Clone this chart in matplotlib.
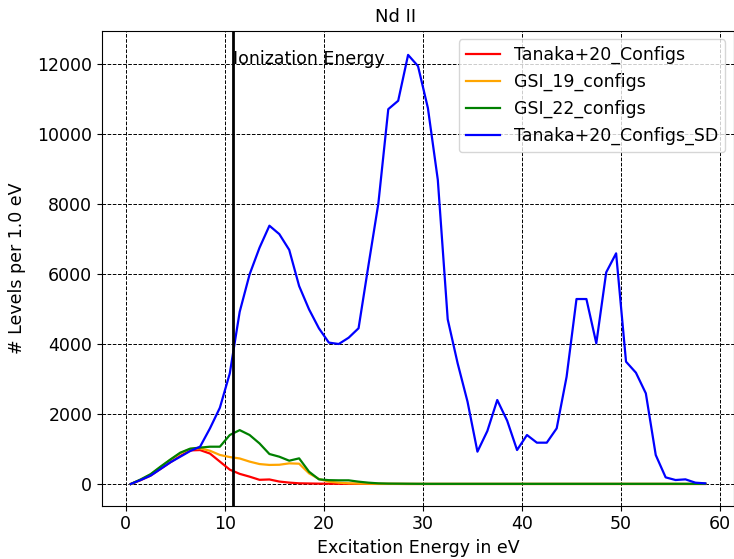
import matplotlib
matplotlib.use("Agg")
import matplotlib.pyplot as plt
import numpy as np

energy = [i + 0.5 for i in range(59)]

tanaka = [0, 110, 240, 430, 620, 800, 960, 970, 870, 640, 410, 290, 210, 120, 130,
          70, 40, 20, 15, 10, 8, 6, 5, 4, 3, 2, 2, 2, 1, 1,
          1, 1, 1, 1, 1, 1, 1, 1, 1, 1, 1, 1, 1, 1, 1,
          1, 1, 1, 1, 1, 1, 1, 1, 1, 1, 1, 1, 1, 1]
gsi19 = [0, 120, 270, 480, 690, 880, 1000, 1020, 950, 830, 770, 730, 640, 570, 545,
         550, 590, 580, 305, 143, 67, 38, 20, 12, 8, 5, 4, 3, 2, 2,
         2, 2, 2, 2, 2, 2, 2, 2, 2, 2, 2, 2, 2, 2, 2,
         2, 2, 2, 2, 2, 2, 2, 2, 2, 2, 2, 2, 2, 2]
gsi22 = [0, 130, 280, 495, 700, 895, 1010, 1040, 1066, 1066, 1400, 1540, 1400, 1160, 857,
         780, 666, 733, 352, 133, 110, 105, 105, 67, 38, 19, 12, 10, 8, 6,
         5, 5, 5, 5, 5, 5, 5, 5, 5, 5, 5, 5, 5, 5, 5,
         5, 5, 5, 5, 5, 5, 5, 5, 5, 5, 5, 5, 5, 5]
tanaka_sd = [0, 114, 238, 428, 619, 780, 942, 1066, 1590, 2180, 3160, 4920, 5990, 6750, 7380,
             7140, 6690, 5656, 4990, 4447, 4040, 4000, 4180, 4450, 6250, 8020, 10710, 10950, 12260, 11940,
             10740, 8690, 4705, 3450, 2352, 924, 1514, 2400, 1810, 971, 1400, 1181, 1181, 1590, 3063,
             5285, 5285, 4020, 6048, 6590, 3495, 3180, 2590, 828, 190, 114, 133, 38, 19]

series_names = ["Tanaka+20_Configs", "GSI_19_configs", "GSI_22_configs", "Tanaka+20_Configs_SD"]
ionization_energy = 10.78

W, H = 734, 559
fig = plt.figure(figsize=(W / 100, H / 100), dpi=100)
ax = fig.add_axes([102 / W, (H - 505.5) / H, 632 / W, 475 / H])

ax.plot(energy, tanaka, color="red", lw=1.6, label=series_names[0])
ax.plot(energy, gsi19, color="orange", lw=1.6, label=series_names[1])
ax.plot(energy, gsi22, color="green", lw=1.6, label=series_names[2])
ax.plot(energy, tanaka_sd, color="blue", lw=1.6, label=series_names[3])
ax.axvline(ionization_energy, color="black", lw=2)
ax.text(ionization_energy, 12000, "Ionization Energy", fontsize=12.5)

ax.set_xlim(-2.4, 61.4)
ax.set_ylim(-614, 12957)
ax.set_xticks([0, 10, 20, 30, 40, 50, 60])
ax.set_yticks([0, 2000, 4000, 6000, 8000, 10000, 12000])
ax.tick_params(labelsize=12.5)
ax.grid(True, color="black", linestyle="--", lw=0.7)
ax.set_xlabel("Excitation Energy in eV", fontsize=12.5)
ax.set_ylabel("# Levels per 1.0 eV", fontsize=12.5, labelpad=8)
fig.text(396 / W, (H - 17) / H, "Nd II", fontsize=13, ha="center", va="center")
ax.legend(loc="upper right", fontsize=12.5)

fig.savefig("out.png", dpi=100)
